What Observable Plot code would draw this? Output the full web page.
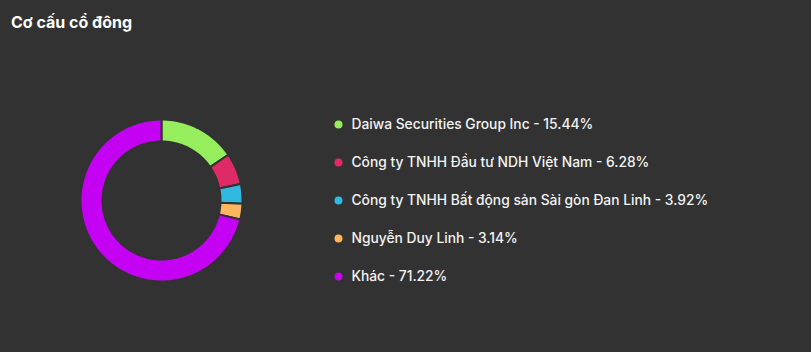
<!DOCTYPE html>
<html>
<head>
<meta charset="utf-8">
<script src="https://cdn.jsdelivr.net/npm/d3@7"></script>
<script src="https://cdn.jsdelivr.net/npm/@observablehq/plot@0.6"></script>
<style>
  html, body { margin: 0; padding: 0; background: #323232; }
  #wrap { position: relative; width: 811px; height: 352px; overflow: hidden; }
  #title { position: absolute; left: 11px; top: 12px; font: 700 16px Inter, sans-serif; color: #ffffff; }
  #chart { position: absolute; left: 0; top: 0; }
</style>
</head>
<body>
<div id="wrap">
  <div id="chart"></div>
  <div id="title">Cơ cấu cổ đông</div>
</div>
<script>
const names = [
  "Daiwa Securities Group Inc",
  "Công ty TNHH Đầu tư NDH Việt Nam",
  "Công ty TNHH Bất động sản Sài gòn Đan Linh",
  "Nguyễn Duy Linh",
  "Khác"
];
const values = [15.44, 6.28, 3.92, 3.14, 71.22];
const colors = ["#96ee5c", "#de2a66", "#31b9e2", "#ffb65f", "#c401f2"];
const bg = "#323232";

const cx = 161, cy = 200, rOuter = 81, rInner = 59;
const legendX = 338, legendY0 = 124, legendStep = 38;

const data = names.map((name, i) => ({name, value: values[i]}));
const arcs = d3.pie().sort(null).value(d => d.value)(data);

// polygon points for each slice
const pts = [];
arcs.forEach(a => {
  const n = Math.max(4, Math.ceil((a.endAngle - a.startAngle) / 0.02));
  const ring = [];
  for (let k = 0; k <= n; k++) {
    const t = a.startAngle + (a.endAngle - a.startAngle) * k / n;
    ring.push([cx + rOuter * Math.sin(t), cy - rOuter * Math.cos(t)]);
  }
  for (let k = n; k >= 0; k--) {
    const t = a.startAngle + (a.endAngle - a.startAngle) * k / n;
    ring.push([cx + rInner * Math.sin(t), cy - rInner * Math.cos(t)]);
  }
  ring.push(ring[0]);
  ring.forEach(([x, y]) => pts.push({name: a.data.name, x, y}));
});

const legend = data.map((d, i) => ({
  name: d.name,
  label: `${d.name} - ${d.value.toFixed(2)}%`,
  x: legendX,
  y: legendY0 + i * legendStep
}));

const chart = Plot.plot({
  width: 811,
  height: 352,
  margin: 0,
  style: {background: bg},
  x: {domain: [0, 811], range: [0, 811], axis: null},
  y: {domain: [0, 352], range: [0, 352], axis: null},
  color: {type: "ordinal", domain: names, range: colors},
  marks: [
    Plot.line(pts, {x: "x", y: "y", z: "name", fill: "name", stroke: bg, strokeWidth: 2, curve: "linear"}),
    Plot.dot(legend, {x: "x", y: "y", r: 4, fill: "name", stroke: null}),
    Plot.text(legend, {x: "x", y: "y", dx: 13, text: "label", textAnchor: "start", fill: "#f2f2f2", fontSize: 13.8, fontFamily: "Inter, sans-serif", fontWeight: 500})
  ]
});
document.getElementById("chart").appendChild(chart);
</script>
</body>
</html>
